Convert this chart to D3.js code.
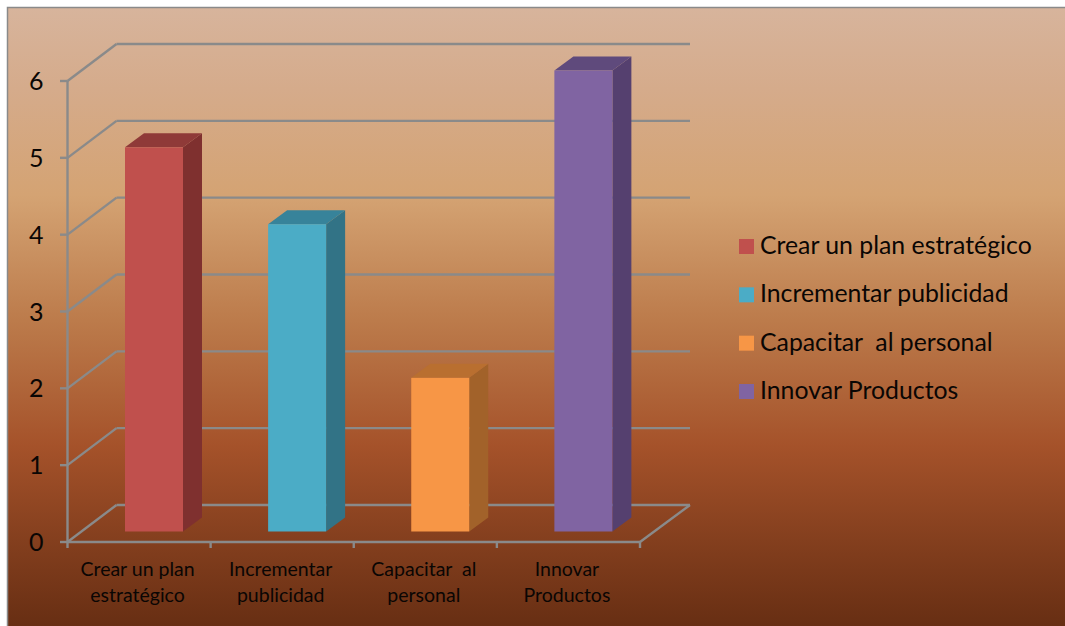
<!DOCTYPE html>
<html><head><meta charset="utf-8">
<script src="https://cdn.jsdelivr.net/npm/d3@7"></script>
<style>html,body{margin:0;padding:0;background:#fff}svg{display:block}text{font-family:Lato,"Open Sans",sans-serif;fill:#0a0604}</style>
</head><body><div id="c"></div>
<script>
const categories = ["Crear un plan estratégico","Incrementar publicidad","Capacitar  al personal","Innovar Productos"];
const categoryLines = [["Crear un plan","estratégico"],["Incrementar","publicidad"],["Capacitar  al","personal"],["Innovar","Productos"]];
const values = [5,4,2,6];
const yTicks = [0,1,2,3,4,5,6];
const faceColors = ["#C0504D","#4BACC6","#F79646","#8064A2"];
const topColors = ["#8F3A38","#37839A","#B96F30","#5F4A7C"];
const sideColors = ["#7F302F","#327386","#A2622A","#55406F"];

const W=1065,H=626;
const svg=d3.select("#c").append("svg").attr("width",W).attr("height",H);
const defs=svg.append("defs");
const g=defs.append("linearGradient").attr("id","bg").attr("x1",0).attr("y1",0).attr("x2",0).attr("y2",1);
[[0,"#D7B49C"],[0.13,"#D5AB8B"],[0.3,"#D4A373"],[0.5,"#BC7B4B"],[0.7,"#A5522A"],[0.85,"#843F1E"],[1,"#652D12"]]
  .forEach(d=>g.append("stop").attr("offset",d[0]).attr("stop-color",d[1]));
svg.append("rect").attr("x",7.5).attr("y",7.5).attr("width",W).attr("height",H)
  .attr("fill","url(#bg)").attr("stroke","#8a8a8a").attr("stroke-width",1.5);

const y=d3.scaleLinear().domain([0,6]).range([542,81]);
const x=d3.scaleBand().domain(categories).range([67.5,640]);
const dx=49,dy=-37;            // depth of the 3D box
const grid="#8a8a8a";
const ln=(a,b,c,d,w=2.4)=>svg.append("line").attr("x1",a).attr("y1",b).attr("x2",c).attr("y2",d)
  .attr("stroke",grid).attr("stroke-width",w);

// back wall and side wall gridlines
yTicks.forEach(t=>{
  const py=y(t);
  ln(x.range()[0],py,x.range()[0]+dx,py+dy);
  ln(x.range()[0]+dx,py+dy,x.range()[1]+dx+1,py+dy);
  ln(60,py,x.range()[0],py);
  svg.append("text").attr("x",43.5).attr("y",py+9).attr("text-anchor","end")
    .attr("font-size",25).text(t);
});
// axes
ln(x.range()[0],y(6),x.range()[0],y(0)+6);
ln(x.range()[0],y(0),x.range()[1],y(0));
ln(x.range()[1],y(0),x.range()[1]+dx+1,y(0)+dy);
categories.forEach((c,i)=>{const e=x(c)+x.bandwidth();ln(e,y(0),e,y(0)+6);});

// bars
const barW=58,offX=57.5,baseDy=-10.5,depX=19,depY=-14;
categories.forEach((c,i)=>{
  const x0=x(c)+offX, x1=x0+barW, yb=y(0)+baseDy, yt=y(values[i])+baseDy;
  const p=a=>a.map(d=>d.join(",")).join(" ");
  svg.append("polygon").attr("points",p([[x1,yt],[x1+depX,yt+depY],[x1+depX,yb+depY],[x1,yb]])).attr("fill",sideColors[i]);
  svg.append("polygon").attr("points",p([[x0,yt],[x0+depX,yt+depY],[x1+depX,yt+depY],[x1,yt]])).attr("fill",topColors[i]);
  svg.append("rect").attr("x",x0).attr("y",yt).attr("width",barW).attr("height",yb-yt).attr("fill",faceColors[i]);
  const cx=x(c)+x.bandwidth()/2-1.5;
  categoryLines[i].forEach((l,j)=>svg.append("text").attr("x",cx).attr("y",575.5+j*26)
    .attr("text-anchor","middle").attr("font-size",19.5).style("white-space","pre").text(l));
});

// legend
const legY=d3.scalePoint().domain(categories).range([246.5,391.5]);
categories.forEach((c,i)=>{
  svg.append("rect").attr("x",739).attr("y",legY(c)-7.5).attr("width",15).attr("height",15).attr("fill",faceColors[i]);
  svg.append("text").attr("x",760).attr("y",legY(c)+7.5).attr("font-size",24.8).style("white-space","pre").text(c);
});
</script></body></html>
